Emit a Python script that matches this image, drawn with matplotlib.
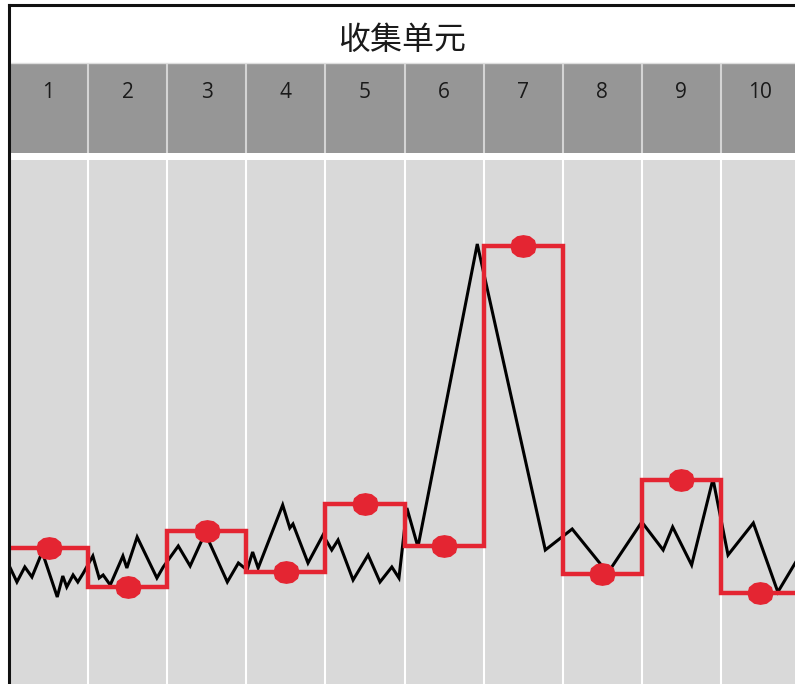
import numpy as np
import matplotlib
matplotlib.use("Agg")
from matplotlib import pyplot as plt

plt.rcParams['font.family'] = ['Noto Sans CJK SC', 'DejaVu Sans']

# collection units (columns)
unit_labels = ['1', '2', '3', '4', '5', '6', '7', '8', '9', '10']
# red step: one level per unit
unit_levels = [136, 97, 153, 112, 180, 138, 438, 110, 204, 91]

# black raw signal, x in unit widths
sig_x = [0.01, 0.10, 0.20, 0.29, 0.42, 0.61, 0.68, 0.73, 0.81, 0.87, 0.94,
         1.06, 1.14, 1.19, 1.28, 1.44, 1.49, 1.62, 1.87, 1.95,
         2.14, 2.29, 2.48, 2.76, 2.90, 3.01, 3.08, 3.15, 3.46, 3.55, 3.59,
         3.78, 3.97, 4.08, 4.16, 4.35, 4.54, 4.69, 4.84, 4.93,
         5.03, 5.17, 5.92, 6.78, 7.12, 7.57, 8.00, 8.27, 8.39, 8.63,
         8.90, 9.09, 9.41, 9.72, 10.0]
sig_y = [117, 102, 117, 107, 132, 87, 108, 97, 109, 102, 111,
         128, 106, 109, 99, 128, 116, 147, 106, 117,
         138, 118, 151, 102, 121, 114, 132, 116, 179, 156, 160,
         121, 149, 134, 144, 104, 129, 102, 117, 106,
         176, 137, 440, 134, 155, 111, 162, 134, 157, 119,
         205, 129, 161, 92, 129]

RED = '#e42532'
W, H = 795, 684
fig = plt.figure(figsize=(W / 100, H / 100), dpi=100)
fig.patch.set_facecolor('white')

col_px = 79.1
left_px = 9
xmax = (W - left_px) / col_px
edges = np.arange(len(unit_levels) + 1)
centers = edges[:-1] + 0.5

# main plot area
ax = fig.add_axes([left_px / W, 0, 1 - left_px / W, (H - 160) / H])
ax.set_facecolor('#d9d9d9')
ax.set_xlim(0, xmax)
ax.set_ylim(0, 524)
for e in edges[1:]:
    ax.axvline(e, color='white', lw=1.5, zorder=1)
ax.plot(sig_x, sig_y, color='black', lw=2.2, zorder=3, solid_joinstyle='miter')
ax.stairs(unit_levels, edges, color=RED, lw=3.2, zorder=4, baseline=None)
# dots are slightly wider than tall
ax.scatter(centers, unit_levels, s=360, color=RED, zorder=5,
           linewidths=0, marker=[(-1.15, 0), (-1, 0.55), (-0.55, 0.9), (0, 1), (0.55, 0.9),
                                 (1, 0.55), (1.15, 0), (1, -0.55), (0.55, -0.9),
                                 (0, -1), (-0.55, -0.9), (-1, -0.55)])
ax.set_xticks([])
ax.set_yticks([])
for s in ax.spines.values():
    s.set_visible(False)

# header band with unit numbers
hx = fig.add_axes([left_px / W, (H - 153) / H, 1 - left_px / W, (153 - 64) / H])
hx.set_facecolor('#969696')
hx.set_xlim(0, xmax)
hx.set_ylim(0, 1)
for e in edges[1:]:
    hx.axvline(e, color='#d4d4d4', lw=1.5)
for c, lab in zip(centers, unit_labels):
    hx.text(c, 0.68, lab, ha='center', va='center', fontsize=15,
            family=['Open Sans', 'DejaVu Sans'], color='#1a1a1a')
hx.set_xticks([])
hx.set_yticks([])
for s in hx.spines.values():
    s.set_visible(False)

# frame with title
fx = fig.add_axes([left_px / W, 0, 1 - left_px / W, (H - 5) / H])
fx.patch.set_alpha(0)
fx.set_xticks([])
fx.set_yticks([])
for k in ('right', 'bottom'):
    fx.spines[k].set_visible(False)
for k in ('left', 'top'):
    fx.spines[k].set_linewidth(2.2)
    fx.spines[k].set_color('#111111')
fx.text(0.5, 1 - 35 / (H - 5), '收集单元', transform=fx.transAxes,
        ha='center', va='center', fontsize=23, color='#1a1a1a')
fx.axhline(1 - 58 / (H - 5), color='#dddddd', lw=1)

fig.savefig('out.png', dpi=100, facecolor='white')
